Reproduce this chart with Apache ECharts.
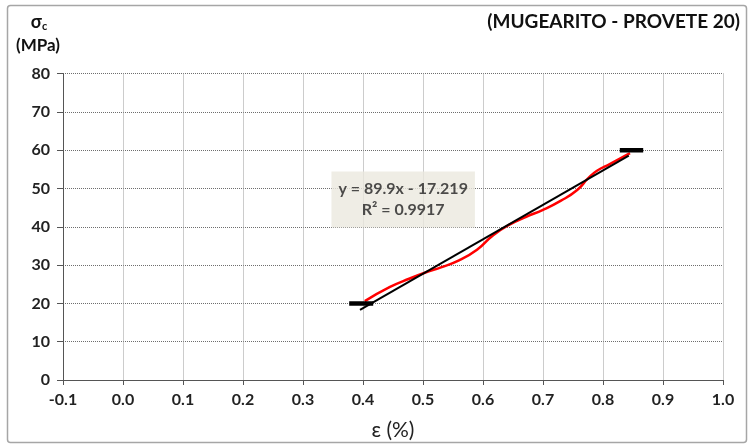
<!DOCTYPE html>
<html>
<head>
<meta charset="utf-8">
<script src="https://cdn.jsdelivr.net/npm/echarts@6/dist/echarts.min.js"></script>
<style>
  html, body { margin:0; padding:0; background:#fff; }
  #chart { width:748px; height:446px; }
</style>
</head>
<body>
<div id="chart"></div>
<script>
// measured curve (strain %, stress MPa)
const curveX = [0.403, 0.445, 0.478, 0.503, 0.530, 0.560, 0.590, 0.617, 0.645, 0.672, 0.700, 0.730, 0.757, 0.775, 0.790, 0.812, 0.845];
const curveY = [20.6, 24.3, 26.5, 28.0, 29.4, 31.2, 34.0, 37.8, 40.6, 42.6, 44.4, 46.8, 49.6, 52.6, 54.6, 56.4, 59.2];
// linear fit  y = 89.9x - 17.219
const fitX = [0.395, 0.843];
const fitY = [18.29, 58.57];
// load markers
const lowMarkX = [0.377, 0.417], lowMarkY = [20, 20];
const highMarkX = [0.828, 0.867], highMarkY = [60, 60];
const eqPos = [0.467, 47.1];
const eqText = ['y = 89.9x - 17.219', 'R² = 0.9917'];

const FONT = 'Lato';
const zip = (a, b) => a.map((v, i) => [v, b[i]]);

const chart = echarts.init(document.getElementById('chart'));

chart.setOption({
  animation: false,
  textStyle: { fontFamily: FONT },
  grid: { left: 63, right: 25, top: 73.5, bottom: 65 },
  xAxis: {
    type: 'value', min: -0.1, max: 1.0, interval: 0.1,
    name: 'ε (%)', nameLocation: 'middle', nameGap: 40,
    nameTextStyle: { fontSize: 21, color: '#222', fontFamily: FONT },
    axisLine: { onZero: false, lineStyle: { color: '#555', width: 1 } },
    axisTick: { show: true, inside: false, length: 5, lineStyle: { color: '#555' } },
    axisLabel: { color: '#222', fontSize: 16, fontWeight: 'bold', margin: 12,
      formatter: v => (Math.round(v * 10) / 10).toFixed(1) },
    splitLine: { show: true, lineStyle: { type: 'dotted', color: '#9a9a9a', width: 1 } }
  },
  yAxis: {
    type: 'value', min: 0, max: 80, interval: 10,
    axisLine: { show: true, onZero: false, lineStyle: { color: '#555', width: 1 } },
    axisTick: { show: true, length: 6, lineStyle: { color: '#555' } },
    axisLabel: { color: '#222', fontSize: 16, fontWeight: 'bold', margin: 13 },
    splitLine: { show: true, lineStyle: { type: 'dotted', color: '#6e6e6e', width: 1 } }
  },
  graphic: [
    { type: 'rect', shape: { x: 7.5, y: 5.5, width: 739, height: 437, r: 3 },
      style: { fill: 'none', stroke: '#a6a6a6', lineWidth: 1.5 }, z: -1 },
    { type: 'text', right: 8, top: 12,
      style: { text: '(MUGEARITO - PROVETE 20)', font: 'bold 19px ' + FONT, fill: '#111' } },
    { type: 'text', x: 39, y: 22,
      style: { text: '{a|σ}{s|c}', align: 'center', verticalAlign: 'middle',
        rich: { a: { font: 'bold 18px ' + FONT, fill: '#111' }, s: { font: 'bold 11px ' + FONT, fill: '#111', padding: [9, 0, 0, 0] } } } },
    { type: 'text', x: 38, y: 46,
      style: { text: '(MPa)', align: 'center', verticalAlign: 'middle', font: 'bold 17px ' + FONT, fill: '#111' } }
  ],
  series: [
    { name: 'curve', type: 'line', data: zip(curveX, curveY), smooth: 0.5, showSymbol: false,
      lineStyle: { color: '#ff0000', width: 2.5 }, z: 3 },
    { name: 'fit', type: 'line', data: zip(fitX, fitY), showSymbol: false,
      lineStyle: { color: '#000', width: 2 }, z: 4 },
    { name: 'low', type: 'line', data: zip(lowMarkX, lowMarkY), showSymbol: false,
      lineStyle: { color: '#000', width: 4.5, cap: 'butt' }, z: 5 },
    { name: 'high', type: 'line', data: zip(highMarkX, highMarkY), showSymbol: false,
      lineStyle: { color: '#000', width: 4.5, cap: 'butt' }, z: 5 },
    { name: 'eq', type: 'scatter', data: [eqPos], symbolSize: 0, z: 6, silent: true,
      label: { show: true, position: 'inside', formatter: eqText.join('\n'),
        backgroundColor: '#ebe8de', padding: [8, 7, 6, 7], lineHeight: 21,
        fontSize: 16, fontWeight: 'bold', color: '#222', fontFamily: FONT } }
  ]
});
</script>
</body>
</html>
